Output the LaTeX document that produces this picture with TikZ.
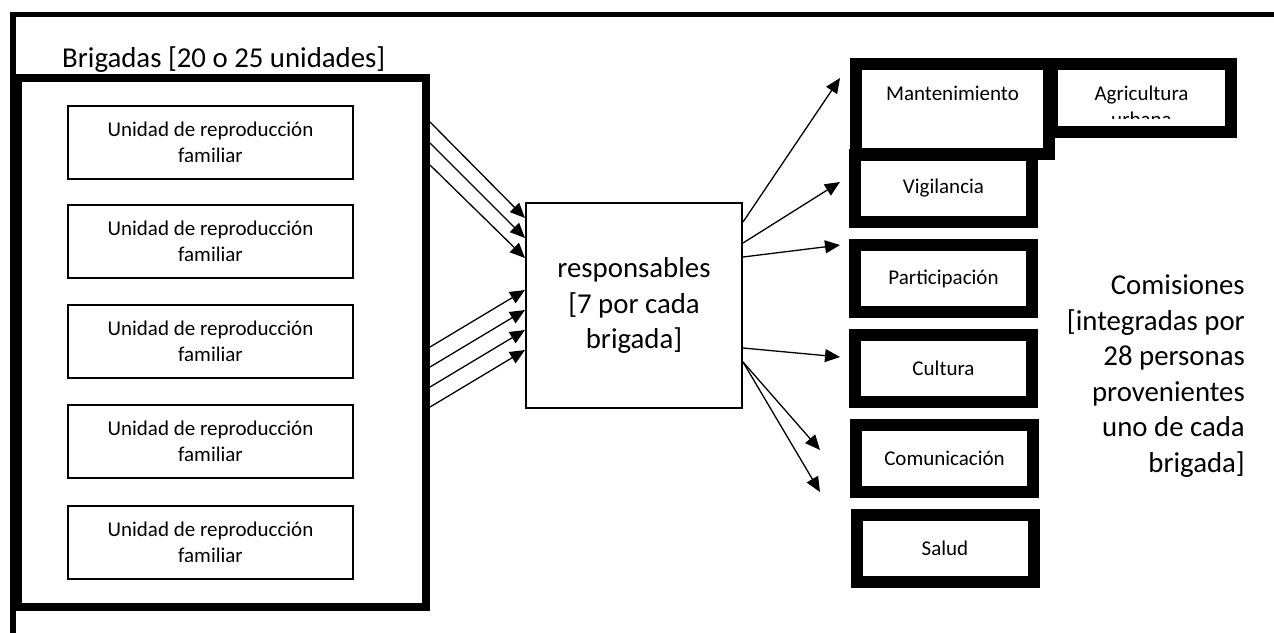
\documentclass[tikz,border=0pt]{standalone}
\usepackage{fontspec}
\setmainfont{Carlito}
\usetikzlibrary{arrows.meta}

\begin{document}
\begin{tikzpicture}[x=1pt,y=-1pt,
    txtsmall/.style={font=\fontsize{21}{26}\selectfont},
    txtbig/.style={font=\fontsize{28.8}{35.5}\selectfont},
    unidad/.style={draw,line width=2pt,minimum width=285pt,minimum height=73pt,align=center,txtsmall},
    comision/.style={draw,line width=12pt,minimum width=177pt,minimum height=67pt,inner sep=0pt,txtsmall},
    arr/.style={line width=1.3pt,-{Triangle[length=15pt,width=13pt]}}]
            \useasboundingbox (0,0) rectangle (1274,632);
            \clip (0,0) rectangle (1274,632);

            \draw[line width=5.5pt] (13,650) |- (1290,14.5);

            \node[draw,line width=8pt,minimum width=408pt,minimum height=529pt] (brig) at (222,342.5) {};
            \node[txtbig,inner sep=0pt,anchor=base west] (brigtit) at (62,67) {Brigadas [20 o 25 unidades]};

            \foreach \y/\n in {142/u1,241/u2,341/u3,441/u4,542/u5}
                \node[unidad] (\n) at (210.5,\y) {Unidad de reproducción\\familiar};

            \node[draw,line width=2pt,minimum width=216pt,minimum height=205pt,align=center,txtbig] (resp) at (634,305.5) {responsables\\{[}7 por cada\\brigada]};

            \node[comision,minimum width=193pt,minimum height=90pt,
                label={[txtsmall,inner sep=0pt,anchor=base,yshift=-42pt]north:Mantenimiento}] (mant) at (952.5,109) {};
            \node[comision,minimum width=179pt,minimum height=68pt,
                label={[txtsmall,inner sep=0pt,anchor=base,yshift=-42pt]north:Agricultura}] (agri) at (1141.5,98) {};
            \begin{scope}
                \clip (agri.west |- 0,70) rectangle (agri.east |- 0,118);
                \node[txtsmall,inner sep=0pt,anchor=base] (agri2) at (agri.north |- 0,126.5) {urbana};
            \end{scope}

            \node[comision] (vig) at (943.5,188.5) {Vigilancia};
            \node[comision] (part) at (943.5,278.5) {Participación};
            \node[comision] (cult) at (943.5,368.5) {Cultura};
            \node[comision] (comu) at (944.5,458.5) {Comunicación};
            \node[comision] (salud) at (945,548.5) {Salud};

            \node[txtbig,align=right,inner sep=0pt,anchor=east] (comis) at (1245,376) {Comisiones\\{[}integradas por\\28 personas\\provenientes\\uno de cada\\brigada]};

            \foreach \a/\b in {122/218,143/238,165/258,347/290,367/310,387/330,407/350}
                \draw[arr] (brig.east |- 0,\a) -- (resp.west |- 0,\b);

            \coordinate (pmant) at (840,78);
            \coordinate (pvig) at (840,182);
            \coordinate (ppart) at (840,245);
            \coordinate (pcult) at (840,357);
            \coordinate (pcom1) at (820,450);
            \coordinate (pcom2) at (820,492);
            \draw[arr] (resp.east |- 0,222) -- (pmant);
            \draw[arr] (resp.east |- 0,243) -- (pvig);
            \draw[arr] (resp.east |- 0,257) -- (ppart);
            \draw[arr] (resp.east |- 0,348) -- (pcult);
            \draw[arr] (resp.east |- 0,362) -- (pcom1);
            \draw[arr] (resp.east |- 0,362) -- (pcom2);

        \end{tikzpicture}
\end{document}
